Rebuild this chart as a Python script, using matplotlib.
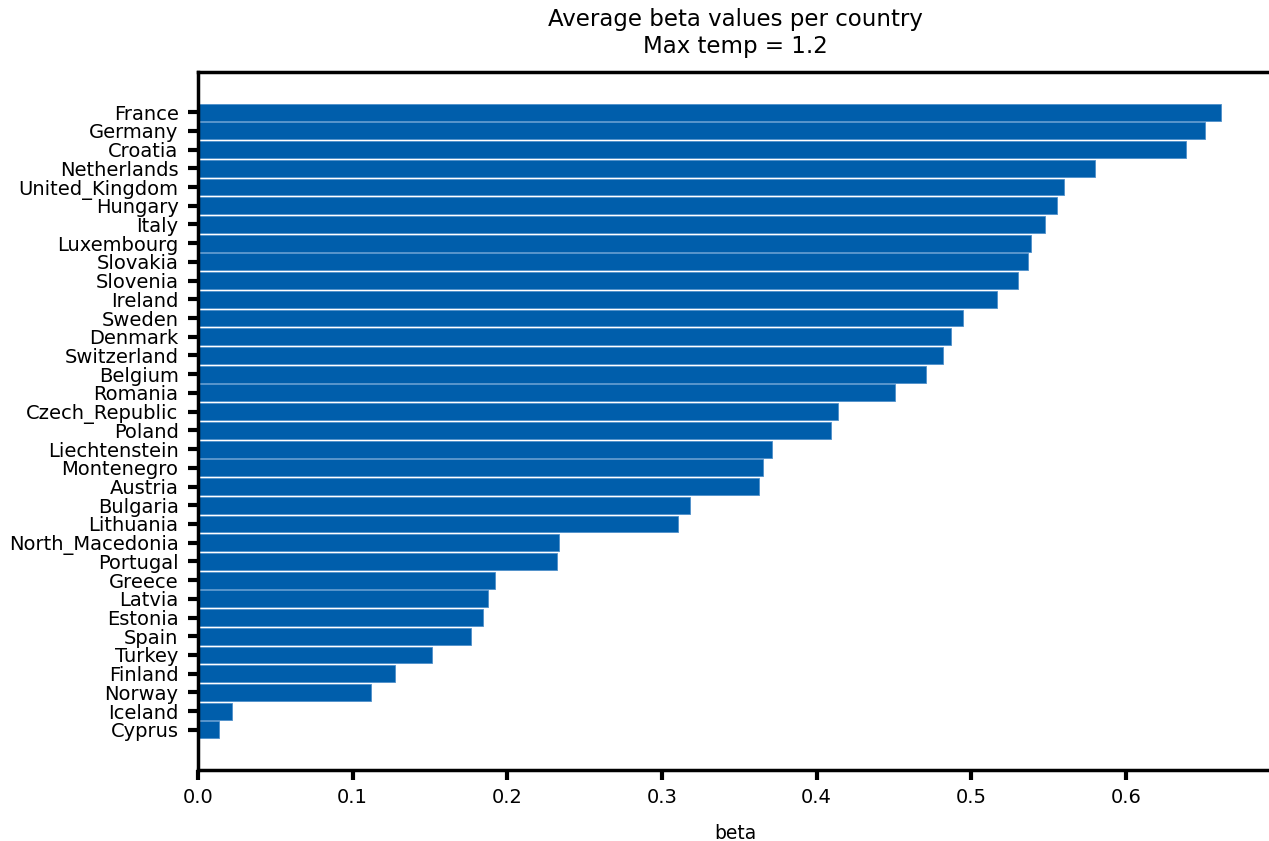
import matplotlib
matplotlib.use('Agg')
import matplotlib.pyplot as plt
import numpy as np

countries = ['France', 'Germany', 'Croatia', 'Netherlands', 'United_Kingdom',
             'Hungary', 'Italy', 'Luxembourg', 'Slovakia', 'Slovenia', 'Ireland',
             'Sweden', 'Denmark', 'Switzerland', 'Belgium', 'Romania',
             'Czech_Republic', 'Poland', 'Liechtenstein', 'Montenegro', 'Austria',
             'Bulgaria', 'Lithuania', 'North_Macedonia', 'Portugal', 'Greece',
             'Latvia', 'Estonia', 'Spain', 'Turkey', 'Finland', 'Norway',
             'Iceland', 'Cyprus']
beta = [0.6615, 0.651, 0.639, 0.580, 0.560,
        0.5557, 0.548, 0.539, 0.537, 0.5304, 0.517,
        0.495, 0.487, 0.482, 0.471, 0.451,
        0.4136, 0.4096, 0.371, 0.3656, 0.363,
        0.318, 0.3104, 0.2334, 0.2322, 0.1919,
        0.1878, 0.1843, 0.1768, 0.1516, 0.1277, 0.1118,
        0.0218, 0.0134]

# smallest value at the bottom
names = countries[::-1]
vals = beta[::-1]
pos = np.arange(len(names))

fig = plt.figure(figsize=(12.69, 8.41), dpi=100)
ax = fig.add_axes([198 / 1269, 71 / 841, (1272 - 198) / 1269, (770 - 72) / 841])

ax.barh(pos, vals, height=0.9, color='#005eab', edgecolor='#4f8fca', linewidth=0.6)
ax.set_yticks(pos)
ax.set_yticklabels(names, fontsize=14)
ax.tick_params(axis='x', labelsize=14, pad=6)
ax.tick_params(axis='y', pad=7)
ax.tick_params(width=3, length=7, color='black')

for s in ax.spines.values():
    s.set_linewidth(2.5)

ax.set_xlabel('beta', fontsize=13.5, labelpad=12)
ax.set_title('Average beta values per country\nMax temp = 1.2', fontsize=16.5, pad=14)

fig.savefig('out.png', dpi=100)
